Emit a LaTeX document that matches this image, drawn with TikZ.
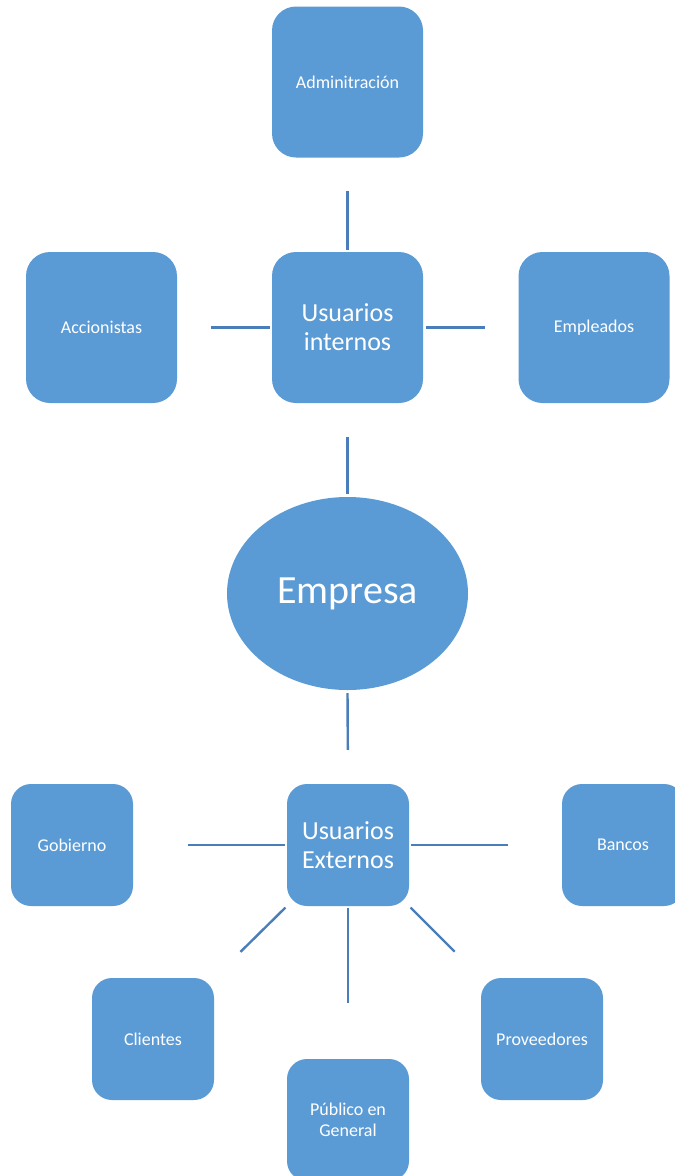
\documentclass[tikz,border=0pt]{standalone}
\usepackage{fontspec}
\setmainfont{Carlito}
\usetikzlibrary{shapes.geometric}
\definecolor{boxblue}{HTML}{5B9BD5}
\definecolor{linkblue}{HTML}{4A7EBB}
\tikzset{
  bigbox/.style={draw=none, fill=boxblue, rounded corners=24pt, minimum width=151pt, minimum height=151pt, inner sep=0pt, text=white, align=center, font=\fontsize{18}{21}\selectfont},
  smallbox/.style={draw=none, fill=boxblue, rounded corners=20pt, minimum width=122pt, minimum height=122pt, inner sep=0pt, text=white, align=center, font=\fontsize{18}{21}\selectfont},
  hubtext/.style={font=\fontsize{26}{29}\selectfont},
  link/.style={draw=linkblue, line width=2.4pt}
}
\begin{document}
\begin{tikzpicture}[x=1pt, y=-1pt]
  \useasboundingbox (0,0) rectangle (675,1176);
  \fill[white] (0,0) rectangle (675,1176);
  \clip (0,0) rectangle (675,1176);

  % internal users
  \node[bigbox] (adm) at (347.5,82) {Adminitración};
  \node[bigbox, hubtext] (ui) at (347.5,327.5) {Usuarios\\internos};
  \node[bigbox] (acc) at (101.5,327.5) {Accionistas};
  \node[bigbox] (emp) at (594,327.5) {Empleados};

  % company
  \node[ellipse, fill=boxblue, minimum width=241pt, minimum height=193pt, inner sep=0pt, text=white, font=\fontsize{40}{44}\selectfont] (empresa) at (347.5,593.5) {Empresa};

  % external users
  \node[smallbox, hubtext] (ue) at (348,845) {Usuarios\\Externos};
  \node[smallbox] (gob) at (72,845) {Gobierno};
  \node[smallbox] (ban) at (623,845) {Bancos};
  \node[smallbox] (cli) at (153,1039) {Clientes};
  \node[smallbox] (pro) at (542,1039) {Proveedores};
  \node[smallbox] (pub) at (348,1120) {Público en\\General};

  % connectors
  \draw[link, shorten <=33pt, shorten >=2pt] (adm.south) -- (ui.north);
  \draw[link, shorten <=34pt, shorten >=2pt] (acc.east) -- (ui.west);
  \draw[link, shorten <=3pt, shorten >=33pt] (ui.east) -- (emp.west);
  \draw[link, shorten <=34pt, shorten >=3pt] (ui.south) -- (empresa.north);
  \draw[link, shorten <=3pt, shorten >=34pt] (empresa.south) -- (ue.north);
  \draw[link, shorten <=55pt, shorten >=2pt] (gob.east) -- (ue.west);
  \draw[link, shorten <=2pt, shorten >=54pt] (ue.east) -- (ban.west);
  \draw[link, shorten <=2pt, shorten >=37pt] (ue.south west) -- (cli.north east);
  \draw[link, shorten <=2pt, shorten >=37pt] (ue.south east) -- (pro.north west);
  \draw[link, shorten <=2pt, shorten >=56pt] (ue.south) -- (pub.north);
\end{tikzpicture}
\end{document}
